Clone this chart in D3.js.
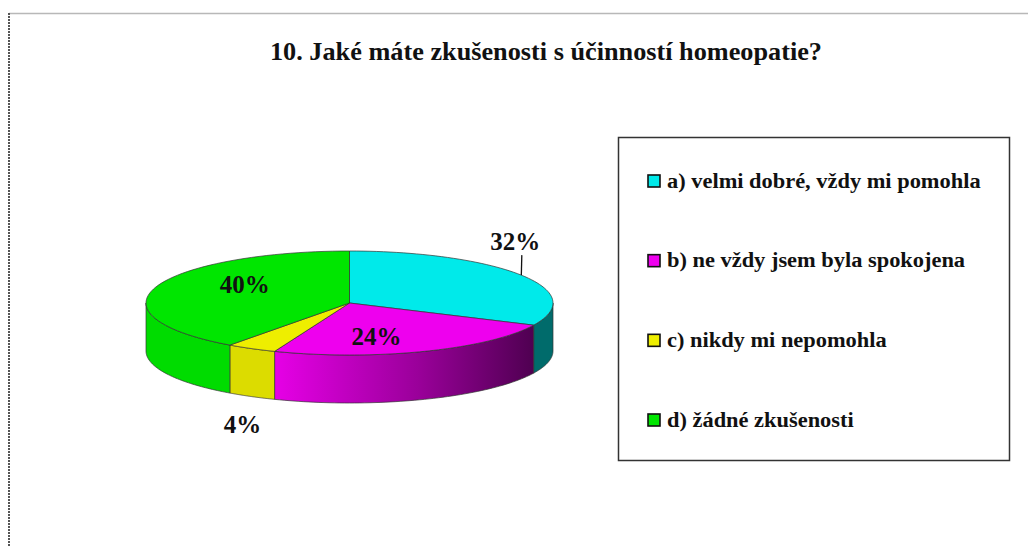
<!DOCTYPE html>
<html><head><meta charset="utf-8">
<script src="https://cdn.jsdelivr.net/npm/d3@7"></script>
<style>body{margin:0;background:#fff;}svg{display:block;} text{font-family:"Liberation Serif","DejaVu Serif",serif;font-weight:bold;}</style>
</head><body>
<svg id="chart" width="1028" height="547"></svg>
<script>
const title = "10. Jaké máte zkušenosti s účinností homeopatie?";
const categories = ["a) velmi dobré, vždy mi pomohla","b) ne vždy jsem byla spokojena","c) nikdy mi nepomohla","d) žádné zkušenosti"];
const values = [32, 24, 4, 40];
const labels = ["32%","24%","4%","40%"];
const topColors = ["#00eaea","#ee00ee","#eeee00","#00e600"];
const sideColors = ["#006b6b","url(#magSide)","#dcdc00","#00dc00"];
const labelPlacement = ["outside","inside","outside","inside"];

const svg = d3.select("#chart");
const W = 1028, H = 547;

svg.append("line").attr("x1",9).attr("y1",13.5).attr("x2",W).attr("y2",13.5).attr("stroke","#b8b8b8").attr("stroke-width",1.5);
svg.append("line").attr("x1",9).attr("y1",13).attr("x2",9).attr("y2",H).attr("stroke","#555").attr("stroke-width",2).attr("stroke-dasharray","2,1");

svg.append("text").attr("x",546).attr("y",60).attr("text-anchor","middle")
  .attr("font-size",25).attr("textLength",552).attr("lengthAdjust","spacingAndGlyphs")
  .attr("fill","#111").text(title);

const defs = svg.append("defs");
const g1 = defs.append("linearGradient").attr("id","magSide").attr("gradientUnits","userSpaceOnUse")
  .attr("x1",275).attr("x2",535).attr("y1",0).attr("y2",0);
g1.append("stop").attr("offset","0").attr("stop-color","#e600e6");
g1.append("stop").attr("offset","0.55").attr("stop-color","#9a009a");
g1.append("stop").attr("offset","1").attr("stop-color","#4e0050");

const cx = 349.5, cy = 303, rx = 203.5, ry = 52, depth = 48;
const pie = d3.pie().sort(null).value(d => d).startAngle(0).endAngle(2*Math.PI);
const arcs = pie(values);
const px = a => cx + rx*Math.sin(a);
const py = a => cy - ry*Math.cos(a);

function topPath(a0,a1){
  const p = d3.path();
  p.moveTo(cx,cy);
  p.lineTo(px(a0),py(a0));
  const n = 60;
  for(let i=1;i<=n;i++){const a=a0+(a1-a0)*i/n;p.lineTo(px(a),py(a));}
  p.closePath();
  return p.toString();
}
function sidePath(a0,a1){
  const p = d3.path(); const n=60;
  p.moveTo(px(a0),py(a0));
  for(let i=1;i<=n;i++){const a=a0+(a1-a0)*i/n;p.lineTo(px(a),py(a));}
  p.lineTo(px(a1),py(a1)+depth);
  for(let i=n-1;i>=0;i--){const a=a0+(a1-a0)*i/n;p.lineTo(px(a),py(a)+depth);}
  p.closePath();
  return p.toString();
}
const gPie = svg.append("g");
arcs.forEach((d,i)=>{
  const a0 = Math.max(d.startAngle, Math.PI/2), a1 = Math.min(d.endAngle, 3*Math.PI/2);
  if(a1>a0){
    gPie.append("path").attr("d",sidePath(a0,a1)).attr("fill",sideColors[i])
      .attr("stroke","#333").attr("stroke-width",0.7).attr("stroke-linejoin","round");
  }
});
arcs.forEach((d,i)=>{
  gPie.append("path").attr("d",topPath(d.startAngle,d.endAngle)).attr("fill",topColors[i])
    .attr("stroke","#333").attr("stroke-width",0.7).attr("stroke-linejoin","round");
});

arcs.forEach((d,i)=>{
  const m = (d.startAngle+d.endAngle)/2;
  const t = svg.append("text").attr("text-anchor","middle").attr("font-size",25).attr("fill","#111").text(labels[i]);
  if(labelPlacement[i]==="inside"){
    const x = cx + rx*0.52*Math.sin(m) + (Math.sin(m)>0?-12:-4);
    const y = cy - ry*0.52*Math.cos(m) + (Math.cos(m)>0?-2:17);
    t.attr("x",x).attr("y",y);
  } else if(Math.cos(m) > 0){
    const ex = px(m), ey = py(m);
    svg.append("line").attr("x1",ex).attr("y1",ey).attr("x2",ex+0.5).attr("y2",ey-20).attr("stroke","#111").attr("stroke-width",1.3);
    t.attr("x",ex-6).attr("y",ey-25);
  } else {
    const ex = px(m), ey = py(m)+depth;
    t.attr("x",ex-9).attr("y",ey+36);
  }
});

const lg = svg.append("g");
lg.append("rect").attr("x",618.5).attr("y",137.5).attr("width",391).attr("height",323)
  .attr("fill","#fff").attr("stroke","#333").attr("stroke-width",1.5);
const ly = d3.scalePoint().domain(categories).range([181,420]);
categories.forEach((c,i)=>{
  lg.append("rect").attr("x",648).attr("y",ly(c)-6).attr("width",12).attr("height",12)
    .attr("fill",topColors[i]).attr("stroke","#111").attr("stroke-width",1.6);
  const t = lg.append("text").attr("x",667).attr("y",ly(c)+6.5)
    .attr("font-size",20).attr("fill","#111").text(c);
  const len = t.node().getComputedTextLength();
  t.attr("textLength",len*1.12).attr("lengthAdjust","spacingAndGlyphs");
});
</script>
</body></html>
